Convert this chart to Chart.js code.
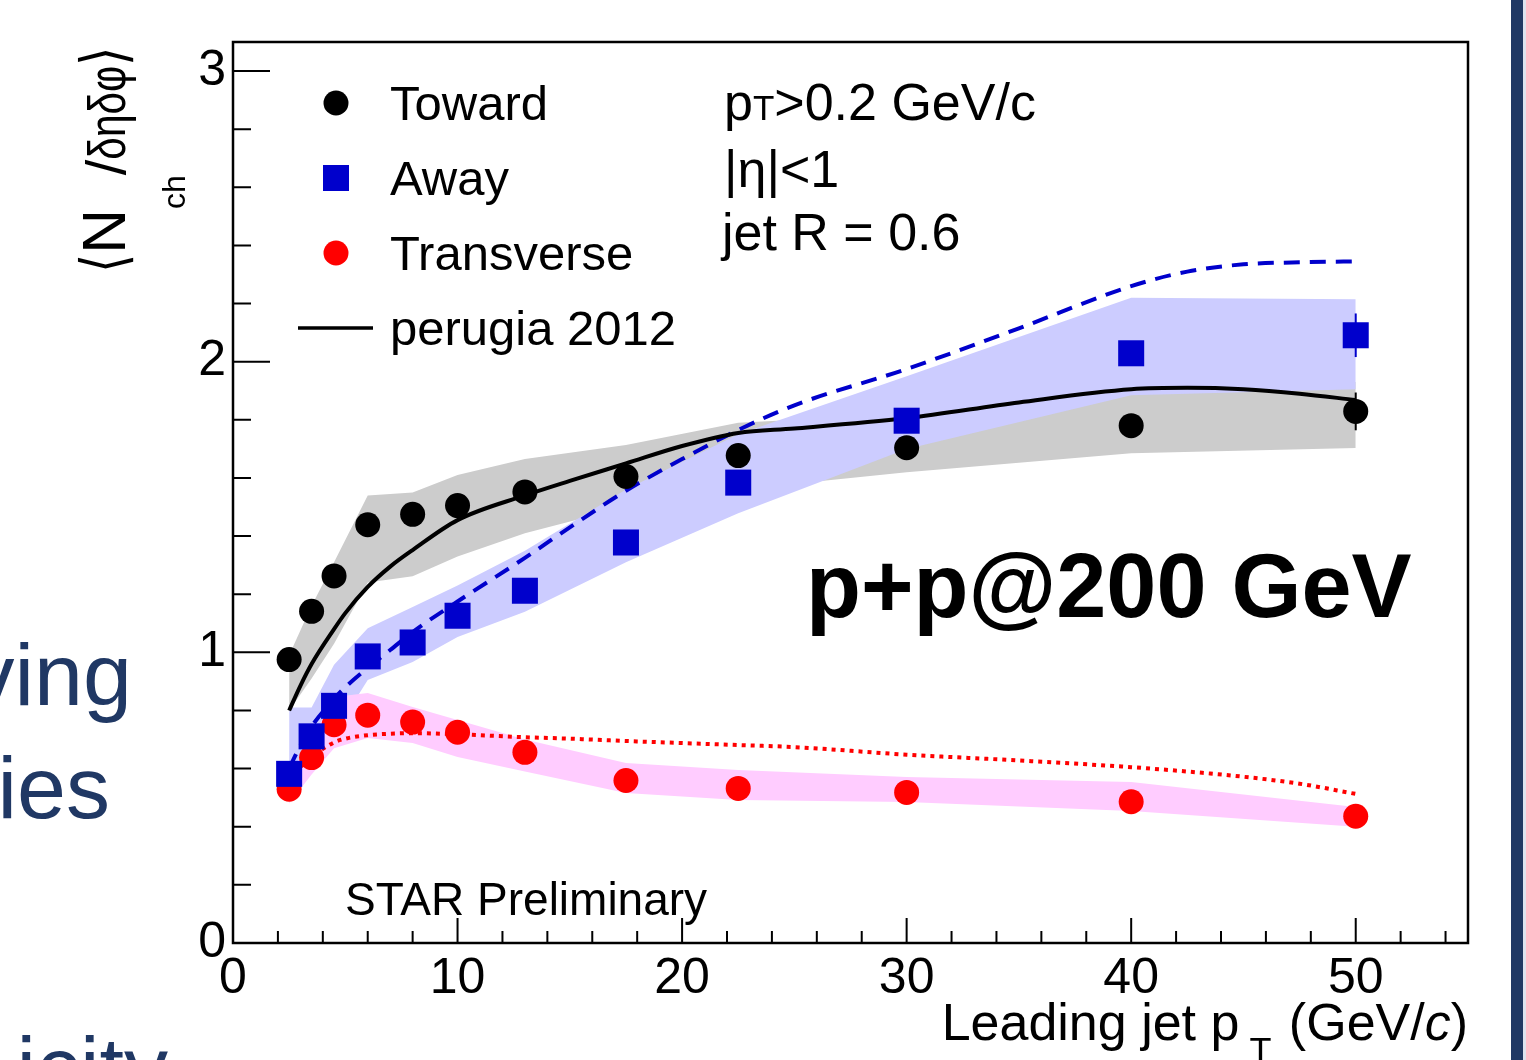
<!DOCTYPE html>
<html>
<head>
<meta charset="utf-8">
<script src="https://cdn.jsdelivr.net/npm/chart.js@4.4.0/dist/chart.umd.min.js"></script>
<style>
  html, body { margin: 0; padding: 0; background: #fff; }
  canvas { display: block; }
</style>
</head>
<body>
<canvas id="myChart" width="1526" height="1060"></canvas>
<script>
// leading jet pT bins (GeV/c)
const ptBins = [2.5, 3.5, 4.5, 6, 8, 10, 13, 17.5, 22.5, 30, 40, 50];

// measured <Nch/deta dphi> in each region
const toward     = [0.975, 1.141, 1.263, 1.439, 1.475, 1.505, 1.552, 1.605, 1.677, 1.704, 1.780, 1.829];
const away       = [0.582, 0.711, 0.816, 0.986, 1.034, 1.126, 1.212, 1.378, 1.584, 1.797, 2.029, 2.091];
const transverse = [0.529, 0.638, 0.751, 0.784, 0.760, 0.725, 0.656, 0.559, 0.532, 0.518, 0.486, 0.436];

// stat errors (only the last bin sticks out of the markers)
const towardStat = [0, 0, 0, 0, 0, 0, 0, 0, 0, 0, 0, 0.065];
const awayStat   = [0, 0, 0, 0, 0, 0, 0, 0, 0, 0, 0, 0.075];

// systematic bands (upper / lower edge)
const towardSysHi = [0.99, 1.16, 1.31, 1.54, 1.55, 1.61, 1.665, 1.713, 1.79, 1.82, 1.92, 1.93];
const towardSysLo = [0.80, 0.91, 1.03, 1.24, 1.262, 1.33, 1.41, 1.50, 1.56, 1.62, 1.685, 1.703];
const awaySysHi   = [0.81, 0.81, 0.957, 1.083, 1.156, 1.23, 1.35, 1.56, 1.75, 1.95, 2.22, 2.215];
const awaySysLo   = [0.537, 0.62, 0.72, 0.905, 0.967, 1.053, 1.14, 1.31, 1.479, 1.70, 1.885, 1.905];
const transSysHi  = [0.58, 0.70, 0.846, 0.86, 0.812, 0.767, 0.70, 0.619, 0.595, 0.571, 0.554, 0.468];
const transSysLo  = [0.48, 0.58, 0.67, 0.705, 0.688, 0.64, 0.59, 0.516, 0.492, 0.485, 0.454, 0.40];

// perugia 2012 curves
const perugiaX      = [2.5, 3, 3.5, 4.5, 5, 6, 7, 8, 10, 13, 15, 17.5, 20, 22.5, 25, 30, 35, 40, 42.5, 45, 47.5, 50];
const perugiaToward = [0.80, 0.885, 0.96, 1.08, 1.135, 1.225, 1.295, 1.352, 1.455, 1.54, 1.59, 1.65, 1.71, 1.755, 1.77, 1.806, 1.86, 1.905, 1.91, 1.905, 1.89, 1.868];
const perugiaAway   = [0.60, 0.68, 0.745, 0.84, 0.88, 0.947, 1.008, 1.07, 1.175, 1.325, 1.43, 1.556, 1.665, 1.765, 1.85, 1.975, 2.115, 2.26, 2.31, 2.335, 2.342, 2.345];
const perugiaTrans  = [0.56, 0.605, 0.64, 0.69, 0.703, 0.715, 0.72, 0.722, 0.718, 0.708, 0.703, 0.695, 0.688, 0.681, 0.674, 0.648, 0.628, 0.605, 0.59, 0.572, 0.548, 0.513];

// tick labels
const xTickLabels = [0, 10, 20, 30, 40, 50];
const yTickLabels = [0, 1, 2, 3];

const FONT = '"Liberation Sans", Arial, Helvetica, sans-serif';
Chart.defaults.font.family = FONT;

function pts(xs, ys) {
    return xs.map((x, i) => ({ x: x, y: ys[i] }));
}

function band(hi, lo, color, order) {
    return [
        { data: pts(ptBins, hi), fill: '+1', backgroundColor: color, borderWidth: 0, pointRadius: 0, tension: 0, order: order },
        { data: pts(ptBins, lo), fill: false, borderWidth: 0, pointRadius: 0, tension: 0, order: order }
    ];
}

// slide bits around the figure
const slideBits = {
    id: 'slideBits',
    beforeDraw(chart) {
        const ctx = chart.ctx;
        ctx.save();
        ctx.fillStyle = '#fff';
        ctx.fillRect(0, 0, chart.width, chart.height);
        ctx.fillStyle = '#203864';
        ctx.fillRect(1511, 0, 12, chart.height);
        ctx.fillStyle = '#dde3ef';
        ctx.fillRect(1523, 0, 3, chart.height);
        ctx.font = '88px ' + FONT;
        ctx.textAlign = 'right';
        ctx.fillStyle = '#203864';
        ctx.fillText('ving', 132, 705);
        ctx.fillText('ies', 110, 818);
        ctx.fillText('icity', 168, 1098);
        ctx.restore();
    }
};

// ROOT style frame with inward ticks
const frameAndTicks = {
    id: 'frameAndTicks',
    afterDatasetsDraw(chart) {
        const { ctx, chartArea: a, scales: { x, y } } = chart;
        ctx.save();
        ctx.strokeStyle = '#000';
        ctx.lineWidth = 2.5;
        ctx.strokeRect(a.left, a.top, a.right - a.left, a.bottom - a.top);
        ctx.lineWidth = 2;
        ctx.beginPath();
        for (let v = 2; v <= 54; v += 2) {
            const px = x.getPixelForValue(v);
            const len = v % 10 === 0 ? 25 : 12;
            ctx.moveTo(px, a.bottom);
            ctx.lineTo(px, a.bottom - len);
        }
        for (let i = 1; i <= 15; i++) {
            const py = y.getPixelForValue(i * 0.2);
            const len = i % 5 === 0 ? 37 : 18;
            ctx.moveTo(a.left, py);
            ctx.lineTo(a.left + len, py);
        }
        ctx.stroke();
        ctx.restore();
    }
};

// vertical stat error bars
const errorBars = {
    id: 'errorBars',
    afterDatasetsDraw(chart) {
        const { ctx, scales: { x, y } } = chart;
        const sets = [[toward, towardStat, '#000'], [away, awayStat, '#0000cc']];
        ctx.save();
        ctx.lineWidth = 2;
        sets.forEach(([vals, errs, col]) => {
            ctx.strokeStyle = col;
            vals.forEach((v, i) => {
                if (!errs[i]) return;
                const px = x.getPixelForValue(ptBins[i]);
                ctx.beginPath();
                ctx.moveTo(px, y.getPixelForValue(v - errs[i]));
                ctx.lineTo(px, y.getPixelForValue(v + errs[i]));
                ctx.stroke();
            });
        });
        ctx.restore();
    }
};

// draws a row of text pieces, returns width
function rich(ctx, parts, x, y, measureOnly) {
    let cx = x;
    parts.forEach(p => {
        ctx.font = p.font;
        const sx = p.sx || 1;
        cx += p.dx || 0;
        if (!measureOnly) {
            ctx.save();
            ctx.translate(cx, y + (p.dy || 0));
            ctx.scale(sx, 1);
            ctx.fillText(p.t, 0, 0);
            ctx.restore();
        }
        cx += ctx.measureText(p.t).width * sx;
    });
    return cx - x;
}

// legend, labels and axis titles
const annotations = {
    id: 'annotations',
    afterDraw(chart) {
        const ctx = chart.ctx;
        ctx.save();
        ctx.fillStyle = '#000';
        ctx.textAlign = 'left';
        ctx.textBaseline = 'alphabetic';

        // legend
        ctx.beginPath(); ctx.arc(336, 103, 12.5, 0, Math.PI * 2); ctx.fill();
        ctx.fillStyle = '#0000cc'; ctx.fillRect(323, 165, 26, 26);
        ctx.fillStyle = '#ff0000'; ctx.beginPath(); ctx.arc(336, 253, 12.5, 0, Math.PI * 2); ctx.fill();
        ctx.strokeStyle = '#000'; ctx.lineWidth = 3.5;
        ctx.beginPath(); ctx.moveTo(298, 328); ctx.lineTo(373, 328); ctx.stroke();
        ctx.fillStyle = '#000';
        ctx.font = '49px ' + FONT;
        ctx.fillText('Toward', 390, 120);
        ctx.fillText('Away', 390, 195);
        ctx.fillText('Transverse', 390, 270);
        ctx.fillText('perugia 2012', 390, 345);

        // cuts
        const f52 = '52px ' + FONT;
        rich(ctx, [{ t: 'p', font: f52 }, { t: 'T', font: '35px ' + FONT }, { t: '>0.2 GeV/c', font: f52 }], 724, 120);
        ctx.font = f52;
        ctx.fillText('|η|<1', 724, 187);
        ctx.fillText('jet R = 0.6', 722, 250);

        ctx.font = 'bold 90px ' + FONT;
        ctx.fillText('p+p@200 GeV', 806, 617);

        ctx.font = '46px ' + FONT;
        ctx.fillText('STAR Preliminary', 345, 915);

        // x title
        const fx = '52px ' + FONT;
        const xParts = [
            { t: 'Leading jet p', font: fx },
            { t: 'T', font: '36px ' + FONT, dx: 10, dy: 24 },
            { t: ' (GeV/', font: fx, dx: 3 },
            { t: 'c', font: 'italic 52px ' + FONT },
            { t: ')', font: fx }
        ];
        const w = rich(ctx, xParts, 0, 0, true);
        rich(ctx, xParts, 1468 - w, 1040);

        // y title, rotated
        ctx.translate(125, 273);
        ctx.rotate(-Math.PI / 2);
        rich(ctx, [
            { t: '⟨', font: '62px ' + FONT, sx: 0.8 },
            { t: 'N', font: '62px ' + FONT },
            { t: 'ch', font: '32px ' + FONT, dy: 60 },
            { t: '/', font: '56px ' + FONT },
            { t: 'δηδφ', font: '52px ' + FONT, sx: 0.78 },
            { t: '⟩', font: '62px ' + FONT, sx: 0.8 }
        ], 0, 0);
        ctx.restore();
    }
};

const ctx = document.getElementById('myChart').getContext('2d');

new Chart(ctx, {
    type: 'line',
    data: {
        datasets: [
            { data: pts(ptBins, toward), showLine: false, pointStyle: 'circle', pointRadius: 12.5, pointHoverRadius: 12.5,
              pointBackgroundColor: '#000', pointBorderWidth: 0, order: 1 },
            { data: pts(ptBins, away), showLine: false, pointStyle: 'rect', pointRadius: 18.4, pointHoverRadius: 18.4,
              pointBackgroundColor: '#0000cc', pointBorderWidth: 0, order: 1 },
            { data: pts(ptBins, transverse), showLine: false, pointStyle: 'circle', pointRadius: 12.5, pointHoverRadius: 12.5,
              pointBackgroundColor: '#ff0000', pointBorderWidth: 0, order: 1 },
            { data: pts(perugiaX, perugiaToward), borderColor: '#000', borderWidth: 4, pointRadius: 0,
              cubicInterpolationMode: 'monotone', fill: false, order: 3 },
            { data: pts(perugiaX, perugiaAway), borderColor: '#0000cc', borderWidth: 4, borderDash: [16, 10], pointRadius: 0,
              cubicInterpolationMode: 'monotone', fill: false, order: 3 },
            { data: pts(perugiaX, perugiaTrans), borderColor: '#ff0000', borderWidth: 4, borderDash: [4, 5], pointRadius: 0,
              cubicInterpolationMode: 'monotone', fill: false, order: 3 },
            ...band(transSysHi, transSysLo, '#ffccff', 6),
            ...band(awaySysHi, awaySysLo, '#ccccff', 7),
            ...band(towardSysHi, towardSysLo, '#cccccc', 8)
        ]
    },
    options: {
        responsive: false,
        animation: false,
        devicePixelRatio: 1,
        layout: { padding: { top: 42, right: 58, left: 0, bottom: 0 } },
        plugins: { legend: { display: false }, tooltip: { enabled: false } },
        scales: {
            x: {
                type: 'linear', min: 0, max: 55,
                afterFit: s => { s.height = 117; },
                afterBuildTicks: s => { s.ticks = xTickLabels.map(v => ({ value: v })); },
                grid: { display: false, drawTicks: false },
                border: { display: false },
                ticks: { font: { size: 50 }, color: '#000', padding: 6, maxRotation: 0, autoSkip: false }
            },
            y: {
                type: 'linear', min: 0, max: 3.1,
                afterFit: s => { s.width = 233; },
                afterBuildTicks: s => { s.ticks = yTickLabels.map(v => ({ value: v })); },
                grid: { display: false, drawTicks: false },
                border: { display: false },
                ticks: { font: { size: 50 }, color: '#000', padding: 7 }
            }
        }
    },
    plugins: [slideBits, frameAndTicks, errorBars, annotations]
});
</script>
</body>
</html>
